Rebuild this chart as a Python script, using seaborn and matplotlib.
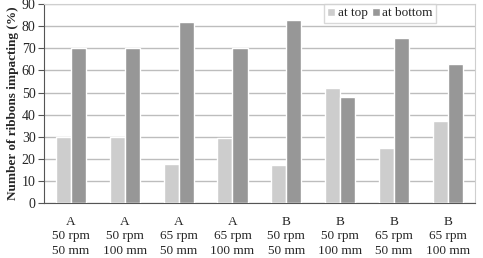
import numpy as np
import pandas as pd
import seaborn as sns
import matplotlib.pyplot as plt

# data
rotors = ["A", "A", "A", "A", "B", "B", "B", "B"]
speeds = ["50 rpm", "50 rpm", "65 rpm", "65 rpm", "50 rpm", "50 rpm", "65 rpm", "65 rpm"]
heights = ["50 mm", "100 mm", "50 mm", "100 mm", "50 mm", "100 mm", "50 mm", "100 mm"]
at_top = [30, 30, 17.5, 29.5, 17, 52, 25, 37]
at_bottom = [70, 70, 82, 70, 83, 48, 74.5, 63]

labels = [f"{r}\n{s}\n{h}" for r, s, h in zip(rotors, speeds, heights)]

df = pd.DataFrame({
    "case": labels * 2,
    "value": at_top + at_bottom,
    "pos": ["at top"] * len(labels) + ["at bottom"] * len(labels),
})

sns.set_style("white")
plt.rcParams["font.family"] = ["Liberation Serif", "DejaVu Serif"]

fig = plt.figure(figsize=(4.83, 2.58), dpi=100)
ax = fig.add_axes([0.091, 0.213, 0.892, 0.771])

sns.barplot(data=df, x="case", y="value", hue="pos", order=labels,
            hue_order=["at top", "at bottom"],
            palette=["#cdcdcd", "#979797"], width=0.56, saturation=1,
            ax=ax, zorder=3)

ax.set_ylim(0, 90)
ax.set_yticks(np.arange(0, 91, 10))
ax.set_xlim(-0.5, len(labels) - 0.5)
ax.grid(axis="y", color="#bdbdbd", linewidth=1, zorder=0)
ax.set_axisbelow(True)

ax.set_xlabel("")
ax.set_ylabel("Number of ribbons impacting (%)", fontsize=9.5,
              fontweight="bold", labelpad=2)

ax.tick_params(axis="x", which="major", length=0, labelsize=9.5, pad=9)
for t in ax.get_xticklabels():
    t.set_linespacing(1.3)
ax.set_xticks(np.arange(-0.5, len(labels), 1), minor=True)
ax.tick_params(axis="x", which="minor", length=4, color="#555555", width=1)
ax.tick_params(axis="y", length=4, labelsize=10, left=True,
               color="#555555", pad=2)

for s in ["top", "right"]:
    ax.spines[s].set_color("#cfcfcf")
ax.spines["left"].set_color("#555555")
ax.spines["bottom"].set_color("#555555")

leg = ax.legend(loc="upper right", bbox_to_anchor=(0.91, 1.0),
                ncol=2, fontsize=9.5, frameon=True, fancybox=False,
                handlelength=0.6, handleheight=0.6, handletextpad=0.2,
                columnspacing=0.3, borderpad=0.25, borderaxespad=0)
leg.get_frame().set_edgecolor("#cfcfcf")
leg.get_frame().set_linewidth(1)

fig.savefig("out.png", dpi=100)
